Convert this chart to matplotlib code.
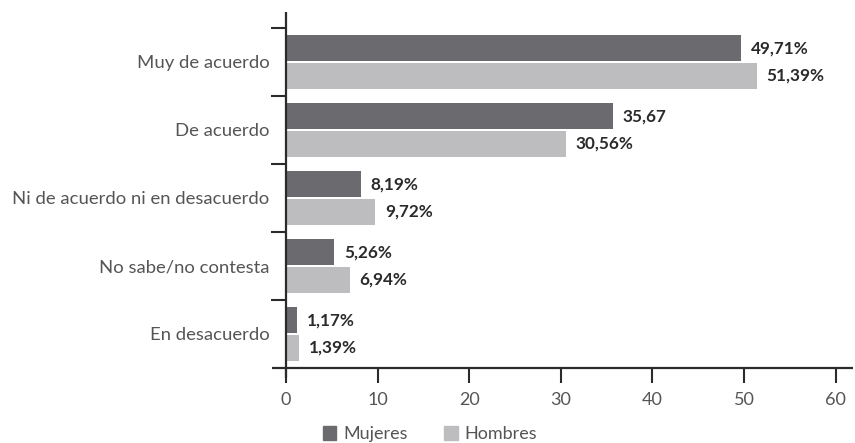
import matplotlib
matplotlib.use('Agg')
import matplotlib.pyplot as plt
from matplotlib.patches import Patch

categories = ['Muy de acuerdo', 'De acuerdo', 'Ni de acuerdo ni en desacuerdo',
              'No sabe/no contesta', 'En desacuerdo']
mujeres = [49.71, 35.67, 8.19, 5.26, 1.17]
hombres = [51.39, 30.56, 9.72, 6.94, 1.39]
mujeres_labels = ['49,71%', '35,67', '8,19%', '5,26%', '1,17%']
hombres_labels = ['51,39%', '30,56%', '9,72%', '6,94%', '1,39%']
xticks = [0, 10, 20, 30, 40, 50, 60]

C_MUJ = '#6b6b6f'
C_HOM = '#bdbdc0'
C_AXIS = '#2b2b2b'
C_TEXT = '#555555'

plt.rcParams['font.family'] = ['Lato', 'DejaVu Sans']

fig = plt.figure(figsize=(8.55, 4.43), dpi=100)
ax = fig.add_axes([286 / 855, 75 / 443, 567 / 855, 356 / 443])

pos = list(range(len(categories)))
h = 0.37
off = 0.205
ax.barh([p - off for p in pos], mujeres, height=h, color=C_MUJ)
ax.barh([p + off for p in pos], hombres, height=h, color=C_HOM)

for p, v, t in zip(pos, mujeres, mujeres_labels):
    ax.annotate(t, (v, p - off), xytext=(7, 0), textcoords='offset points',
                va='center', ha='left', fontsize=12.3, fontweight='bold', color='#2a2a2a')
for p, v, t in zip(pos, hombres, hombres_labels):
    ax.annotate(t, (v, p + off), xytext=(7, 0), textcoords='offset points',
                va='center', ha='left', fontsize=12.3, fontweight='bold', color='#2a2a2a')

ax.set_xlim(0, 61.9)
ax.set_ylim(4.5, -0.735)

for s in ax.spines.values():
    s.set_visible(False)

# axis lines that run a bit past the origin
ax.plot([-0.025, 1.0], [0, 0], transform=ax.transAxes, color=C_AXIS, lw=1.6,
        clip_on=False, solid_capstyle='butt')
ax.plot([0, 0], [-0.028, 1.0], transform=ax.transAxes, color=C_AXIS, lw=1.6,
        clip_on=False, solid_capstyle='butt')

ax.set_xticks(xticks)
ax.set_xticklabels([str(x) for x in xticks])
ax.tick_params(axis='x', direction='out', length=10.5, width=1.5, color=C_AXIS,
               pad=7, labelsize=13, labelcolor=C_TEXT)

ax.set_yticks([-0.5, 0.5, 1.5, 2.5, 3.5])
ax.set_yticklabels([])
ax.set_yticks(pos, minor=True)
ax.set_yticklabels(categories, minor=True)
ax.tick_params(axis='y', which='major', direction='out', length=10.5, width=1.5,
               color=C_AXIS)
ax.tick_params(axis='y', which='minor', length=0, pad=12, labelsize=13.3,
               labelcolor=C_TEXT)

handles = [Patch(color=C_MUJ, label='Mujeres'), Patch(color=C_HOM, label='Hombres')]
leg = fig.legend(handles=handles, loc='lower center', bbox_to_anchor=(430 / 855, -0.035),
                 ncol=2, frameon=False, fontsize=13, handlelength=0.75,
                 handleheight=0.75, handletextpad=0.4, columnspacing=2.0)
for t in leg.get_texts():
    t.set_color(C_TEXT)

fig.savefig('out.png', dpi=100)
